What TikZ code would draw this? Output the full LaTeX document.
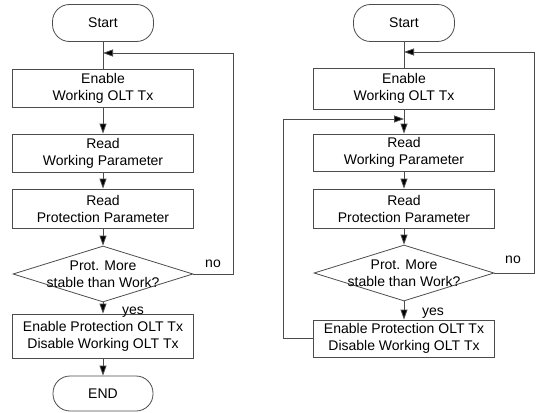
\documentclass[tikz,border=0pt]{standalone}
\usepackage{fontspec}
\setmainfont{Liberation Sans}
\usetikzlibrary{arrows.meta,shapes.geometric}
\begin{document}
\begin{tikzpicture}[x=1pt,y=-1pt,
  every node/.style={font=\fontsize{14}{17}\selectfont},
  ln/.style={draw=black!70, line width=0.8pt},
  arr/.style={ln, -{Triangle[length=10pt,width=7pt,fill=black]}},
  term/.style={ln, rectangle, rounded corners=17pt, minimum width=101pt, minimum height=37pt, inner sep=0pt, align=center},
  proc/.style={ln, rectangle, minimum width=181pt, inner sep=0pt, align=center},
  dia/.style={ln, diamond, minimum width=180pt, minimum height=56pt, inner sep=0pt},
  txt/.style={align=center, inner sep=0pt},
  lbl/.style={inner sep=0pt}]
\useasboundingbox (0,0) rectangle (540,412);
% ---------- left chart ----------
\node[term] (s1) at (103,23) {Start};
\node[proc, minimum height=38pt] (a1) at (103,88) {Enable\\Working OLT Tx};
\node[proc, minimum height=38pt] (a2) at (103,153) {Read\\Working Parameter};
\node[proc, minimum height=39pt] (a3) at (103,208.5) {Read\\Protection Parameter};
\node[dia] (d1) at (103,274) {};
\node[txt] (d1t) at (d1) {Prot. More\\stable than Work?};
\node[proc, minimum height=44pt] (a4) at (103,336) {Enable Protection OLT Tx\\Disable Working OLT Tx};
\node[term, minimum width=100pt, minimum height=35pt] (e1) at (103,393.5) {END};
\coordinate (j1) at (103,53);
\draw[ln] (s1) -- (a1);
\draw[arr] (a1) -- (a2);
\draw[arr] (a2) -- (a3);
\draw[arr] (a3) -- (d1);
\draw[arr] (d1) -- (a4);
\draw[arr] (a4) -- (e1);
\draw[arr] (d1.east) -- ++(40,0) |- (j1);
\node[lbl] (no1) at (213,264) {no};
\node[lbl] (yes1) at (133,312) {yes};
% ---------- right chart ----------
\node[term] (s2) at (404,23) {Start};
\node[proc, minimum height=41pt] (b1) at (404,88.5) {Enable\\Working OLT Tx};
\node[proc, minimum height=37pt] (b2) at (404,152.5) {Read\\Working Parameter};
\node[proc, minimum height=39pt] (b3) at (404,208.5) {Read\\Protection Parameter};
\node[dia] (d2) at (404,273) {};
\node[txt] (d2t) at (d2) {Prot. More\\stable than Work?};
\node[proc, minimum height=37pt] (b4) at (404,338.5) {Enable Protection OLT Tx\\Disable Working OLT Tx};
\coordinate (j2) at (404,52);
\coordinate (j3) at (404,119);
\draw[ln] (s2) -- (b1);
\draw[arr] (b1) -- (b2);
\draw[arr] (b2) -- (b3);
\draw[arr] (b3) -- (d2);
\draw[arr] (d2) -- (b4);
\draw[arr] (d2.east) -- ++(40,0) |- (j2);
\draw[arr] (b4.west) -- ++(-30,0) |- (j3);
\node[lbl] (no2) at (513,260) {no};
\node[lbl] (yes2) at (433,313) {yes};
\end{tikzpicture}
\end{document}
